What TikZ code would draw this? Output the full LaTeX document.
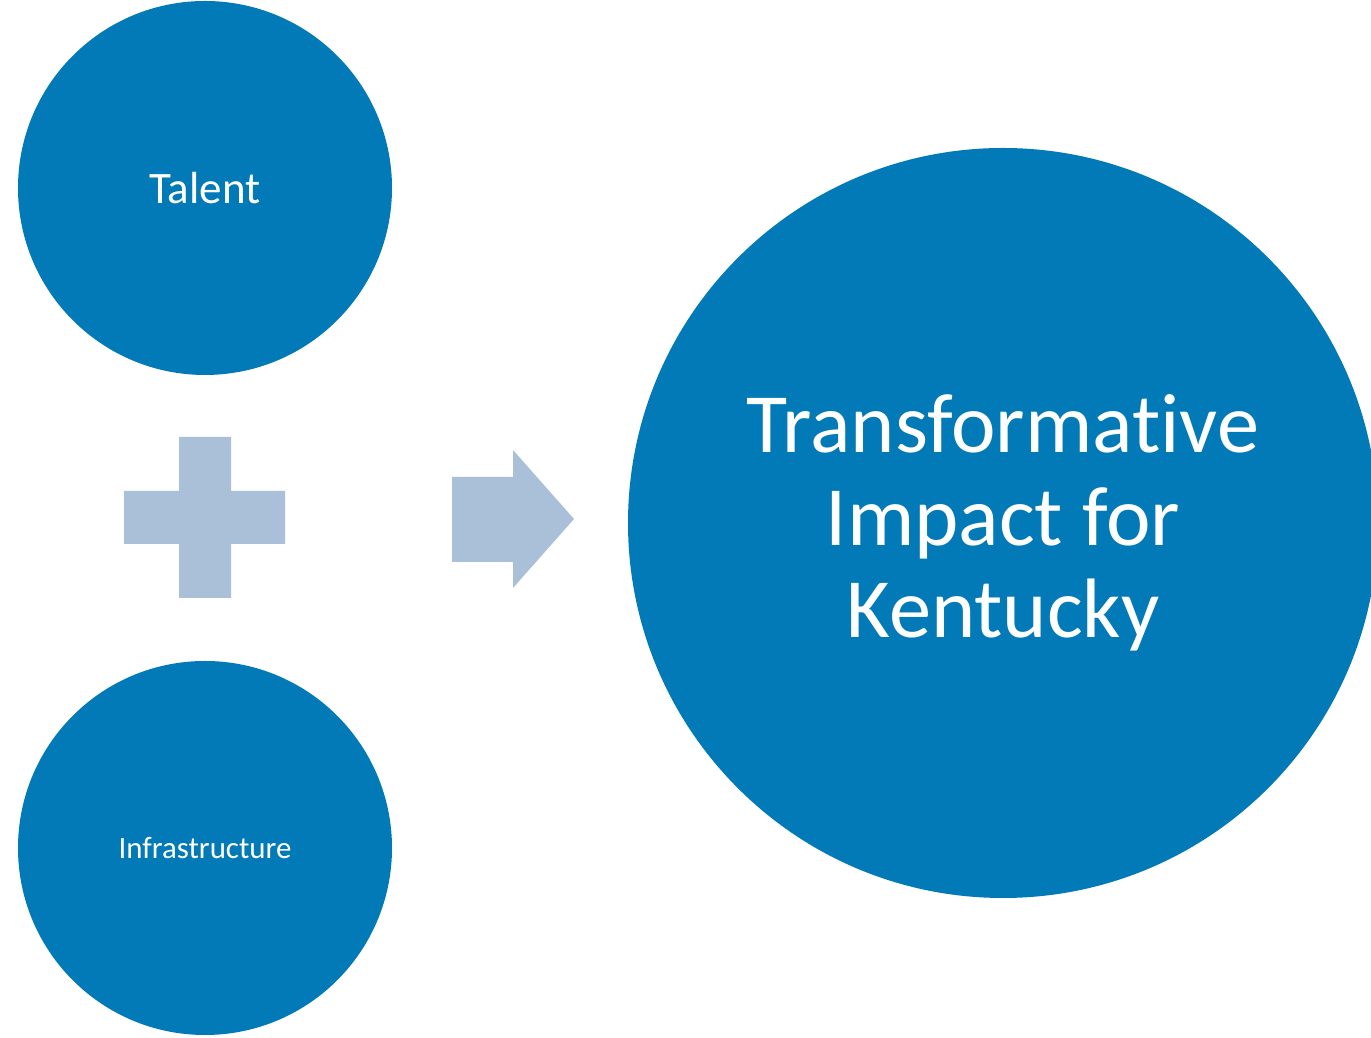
\documentclass[tikz,border=0pt]{standalone}
\usepackage{fontspec}
\setmainfont[Ligatures={NoCommon}]{Carlito}
\usepackage{xcolor}
\usetikzlibrary{positioning}
\definecolor{circleblue}{HTML}{027AB7}
\definecolor{signblue}{HTML}{AAC0D9}

\begin{document}
\begin{tikzpicture}[
  bubble/.style={circle, fill=circleblue, text=white, align=center, inner sep=0pt},
  small/.style={bubble, minimum size=7.48cm},
  large/.style={bubble, minimum size=15cm},
  sign/.style={fill=signblue, draw=none}
]
  \useasboundingbox (0,0) rectangle (27.42,20.76);

  \node[small, font=\fontsize{25.6}{30}\selectfont] (talent) at (4.1, 17.0) {Talent};
  \node[small, font=\fontsize{17.6}{21}\selectfont] (infra) at (4.1, 3.8) {Infrastructure};
  \node[large, font=\fontsize{48}{52.5}\selectfont] (impact) at (20.06, 10.3) {Transformative\\Impact for\\Kentucky};

  % plus sign
  \fill[sign] (3.58,12.02) -- (4.62,12.02) -- (4.62,10.94) -- (5.7,10.94) -- (5.7,9.88)
    -- (4.62,9.88) -- (4.62,8.8) -- (3.58,8.8) -- (3.58,9.88) -- (2.48,9.88)
    -- (2.48,10.94) -- (3.58,10.94) -- cycle;

  % arrow
  \fill[sign] (9.04,11.22) -- (10.26,11.22) -- (10.26,11.76) -- (11.48,10.38)
    -- (10.26,9.0) -- (10.26,9.52) -- (9.04,9.52) -- cycle;
\end{tikzpicture}
\end{document}
